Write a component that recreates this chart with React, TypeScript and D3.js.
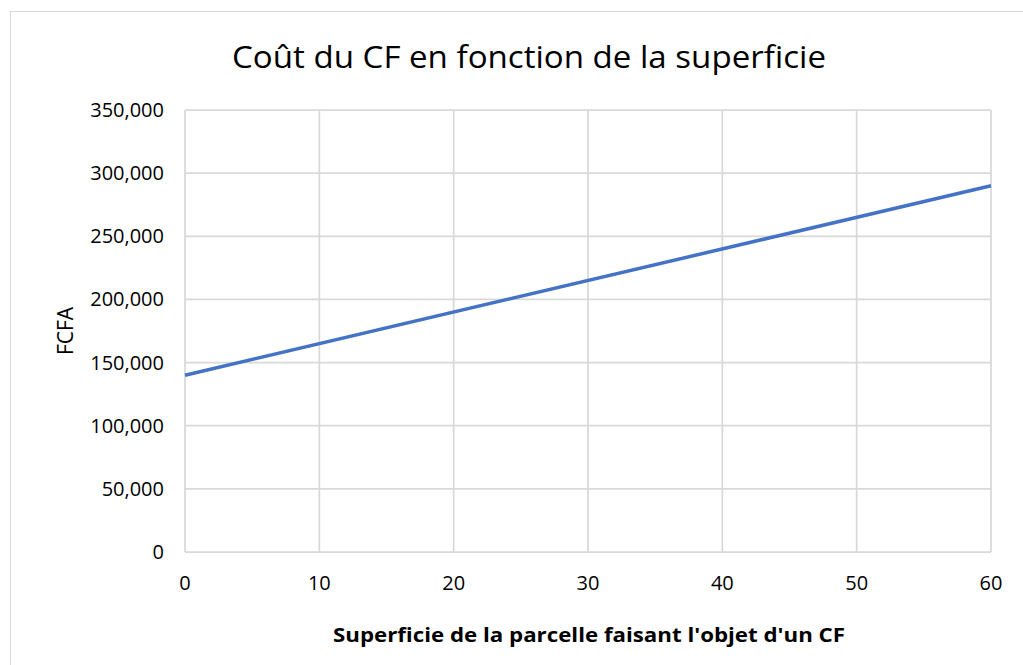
import React from "react";
import * as d3 from "d3";

const xValues = [0, 60];
const yValues = [140000, 290000];
const xTicks = [0, 10, 20, 30, 40, 50, 60];
const yTicks = [0, 50000, 100000, 150000, 200000, 250000, 300000, 350000];
const title = "Coût du CF en fonction de la superficie";
const xTitle = "Superficie de la parcelle faisant l'objet d'un CF";
const yTitle = "FCFA";

export default function App() {
  const W = 1023, H = 665;
  const left = 185, right = 991, top = 110, bottom = 552;
  const x = d3.scaleLinear().domain([0, 60]).range([left, right]);
  const y = d3.scaleLinear().domain([0, 350000]).range([bottom, top]);
  const pts = xValues.map((v, i) => [v, yValues[i]] as [number, number]);
  const line = d3.line<[number, number]>().x(d => x(d[0])).y(d => y(d[1]));
  const fmt = d3.format(",");
  const font = "'Open Sans', Lato, sans-serif";
  return (
    <svg width={W} height={H} style={{ position: "absolute", left: 0, top: 0 }} fontFamily={font}>
      <rect x={0} y={0} width={W} height={H} fill="#fff" />
      <rect x={10.5} y={11.5} width={W + 20} height={H + 20} fill="#fff" stroke="#d9d9d9" strokeWidth={1} />
      {xTicks.map(t => (
        <line key={"gx" + t} x1={x(t)} x2={x(t)} y1={top} y2={bottom} stroke="#d9d9d9" strokeWidth={1.75} />
      ))}
      {yTicks.map(t => (
        <line key={"gy" + t} x1={left} x2={right} y1={y(t)} y2={y(t)} stroke="#d9d9d9" strokeWidth={1.75} />
      ))}
      {yTicks.map(t => (
        <text key={"ty" + t} x={164} y={y(t)} dy="0.35em" textAnchor="end" fontSize={20} fill="#000">{fmt(t)}</text>
      ))}
      {xTicks.map(t => (
        <text key={"tx" + t} x={x(t)} y={583} dy="0.35em" textAnchor="middle" fontSize={20} fill="#000">{t}</text>
      ))}
      <path d={line(pts) || ""} fill="none" stroke="#4472C4" strokeWidth={3.5} />
      <text x={529} y={57} dy="0.35em" textAnchor="middle" fontSize={31} textLength={594} lengthAdjust="spacingAndGlyphs" fill="#000">{title}</text>
      <text x={589} y={635} dy="0.35em" textAnchor="middle" fontSize={19} fontWeight="bold" textLength={512} lengthAdjust="spacingAndGlyphs" fill="#000">{xTitle}</text>
      <text transform={`translate(66,331) rotate(-90)`} dy="0.35em" textAnchor="middle" fontSize={21} fill="#000">{yTitle}</text>
    </svg>
  );
}
